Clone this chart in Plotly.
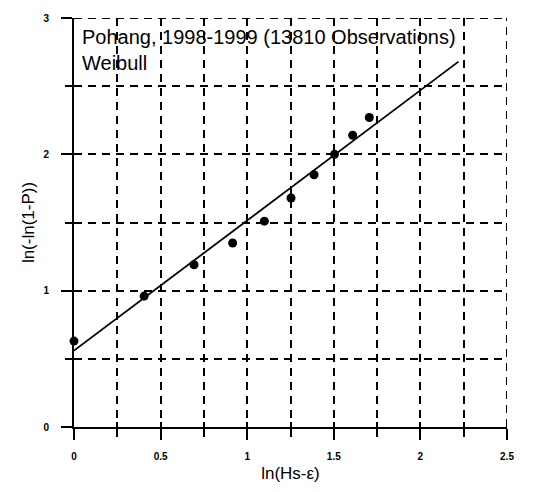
import plotly.graph_objects as go

# Data
obs_x = [0.0, 0.405, 0.693, 0.916, 1.099, 1.253, 1.386, 1.504, 1.609, 1.705]
obs_y = [0.63, 0.96, 1.19, 1.35, 1.51, 1.68, 1.85, 2.00, 2.14, 2.27]

fit_x = [0.0, 2.22]
fit_y = [0.56, 2.68]

x_major = [0, 0.5, 1, 1.5, 2, 2.5]
x_major_text = ["0", "0.5", "1", "1.5", "2", "2.5"]
x_minor = [0.25, 0.75, 1.25, 1.75, 2.25]
x_all = [0, 0.25, 0.5, 0.75, 1, 1.25, 1.5, 1.75, 2, 2.25, 2.5]

y_major = [0, 1, 2, 3]
y_major_text = ["0", "1", "2", "3"]
y_minor = [0.5, 1.5, 2.5]
y_all = [0, 0.5, 1, 1.5, 2, 2.5, 3]

title_line1 = "Pohang, 1998-1999 (13810 Observations)"
title_line2 = "Weibull"

FONT = "Liberation Sans, Arial, sans-serif"
DASH = "8px,6px"
GW = 2

fig = go.Figure()
fig.add_trace(go.Scatter(x=fit_x, y=fit_y, mode="lines",
                         line=dict(color="black", width=1.8),
                         showlegend=False, hoverinfo="skip"))
fig.add_trace(go.Scatter(x=obs_x, y=obs_y, mode="markers",
                         marker=dict(color="black", size=9),
                         showlegend=False, cliponaxis=False))
fig.add_trace(go.Scatter(x=[None], y=[None], xaxis="x2", yaxis="y2",
                         showlegend=False, hoverinfo="skip"))

fig.update_layout(
    width=534, height=492,
    margin=dict(l=74, r=27, t=15, b=61),
    plot_bgcolor="white", paper_bgcolor="white",
    font=dict(family=FONT, color="black"),
    xaxis=dict(
        range=[0, 2.5], tickvals=x_major, ticktext=x_major_text,
        ticks="outside", ticklen=11, tickwidth=2, tickcolor="black",
        showline=True, linecolor="black", linewidth=2,
        showgrid=True, gridcolor="black", griddash=DASH, gridwidth=GW,
        zeroline=False, layer="above traces",
        tickfont=dict(size=10, weight="bold", family=FONT),
        ticklabelstandoff=8,
        minor=dict(tickvals=x_minor, ticks="outside", ticklen=8,
                   tickwidth=2, tickcolor="black", showgrid=True,
                   gridcolor="black", griddash=DASH, gridwidth=GW),
        title=dict(text="ln(Hs-ε)", font=dict(size=17, family=FONT), standoff=6),
    ),
    yaxis=dict(
        range=[0, 3], tickvals=y_major, ticktext=y_major_text,
        ticks="outside", ticklen=11, tickwidth=2, tickcolor="black",
        showline=True, linecolor="black", linewidth=2,
        showgrid=True, gridcolor="black", griddash=DASH, gridwidth=GW,
        zeroline=False,
        tickfont=dict(size=10, weight="bold", family=FONT),
        ticklabelstandoff=10,
        minor=dict(tickvals=y_minor, ticks="outside", ticklen=7,
                   tickwidth=2, tickcolor="black", showgrid=True,
                   gridcolor="black", griddash=DASH, gridwidth=GW),
        title=dict(text="ln(-ln(1-P))", font=dict(size=17, family=FONT), standoff=4),
    ),
    xaxis2=dict(
        range=[0, 2.5], overlaying="x", anchor="y", side="bottom",
        tickvals=x_all, ticks="inside", ticklen=5, tickwidth=2,
        tickcolor="black", showticklabels=False, showgrid=False,
        zeroline=False, showline=False,
    ),
    yaxis2=dict(
        range=[0, 3], overlaying="y", anchor="x", side="left",
        tickvals=y_all, ticks="inside", ticklen=4, tickwidth=2,
        tickcolor="black", showticklabels=False, showgrid=False,
        zeroline=False, showline=False,
    ),
    shapes=[
        dict(type="line", xref="paper", yref="y", x0=0, x1=1,
             y0=y_major[-1], y1=y_major[-1],
             line=dict(color="black", width=GW, dash=DASH)),
        dict(type="line", xref="x", yref="paper", x0=x_major[-1], x1=x_major[-1],
             y0=0, y1=1, line=dict(color="black", width=GW, dash=DASH)),
    ],
    annotations=[
        dict(text=title_line1 + "<br>" + title_line2, xref="paper", yref="paper",
             x=0.015, y=0.985, xanchor="left", yanchor="top", align="left",
             showarrow=False, font=dict(size=20, family=FONT, color="black")),
    ],
)

fig.write_html("out.html")
